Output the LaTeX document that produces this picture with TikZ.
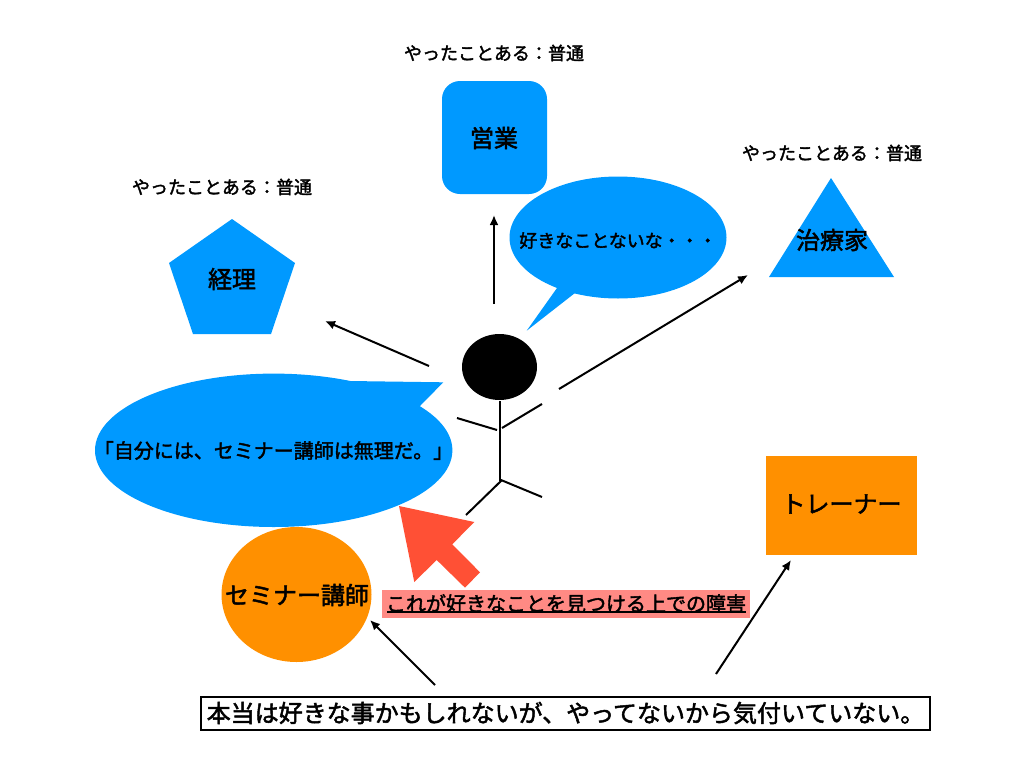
\documentclass[tikz,border=0pt]{standalone}
\usepackage{fontspec}
\usetikzlibrary{arrows.meta}
\newfontfamily\jp[FakeBold=2]{Noto Sans CJK JP}
\definecolor{skyb}{HTML}{0099FF}
\definecolor{orng}{HTML}{FF9000}
\definecolor{redarrow}{HTML}{FF5035}
\definecolor{pinkb}{HTML}{FF8A84}
\tikzset{
  lab/.style={inner sep=0pt,font=\jp\fontsize{#1}{#1}\selectfont,text=black},
  conn/.style={draw=black,line width=2pt,-{Latex[length=10pt,width=9pt]}},
  stick/.style={draw=black,line width=2pt},
}
\begin{document}
\begin{tikzpicture}[x=1pt,y=-1pt]
\useasboundingbox (0,0) rectangle (1021,764);
% blue shapes
\fill[skyb,rounded corners=18pt] (442,81) rectangle (547,194);
\fill[skyb] (232,219) -- (295,263) -- (271,334) -- (193,334) -- (169,263) -- cycle;
\fill[skyb] (831,178) -- (894,277) -- (769,277) -- cycle;
% speech bubbles
\fill[skyb] (618,237.5) ellipse [x radius=108.5pt,y radius=61pt];
\fill[skyb] (557.7,287) -- (526.7,330.7) -- (575,293) -- cycle;
\fill[skyb] (273.7,450.3) ellipse [x radius=178.7pt,y radius=76.7pt];
\fill[skyb] (349.3,381) -- (443.3,382.3) -- (420,406) -- (380,420) -- cycle;
% orange shapes
\fill[orng] (296.5,594.5) ellipse [x radius=75pt,y radius=67.5pt];
\fill[orng] (766,456) rectangle (917,555);
% red arrow
\fill[redarrow] (399,506) -- (474.3,522) -- (452.3,544.3) -- (480,572.3) -- (465,587.7) -- (436.7,560) -- (414.3,582) -- cycle;
% pink label
\fill[pinkb] (382,590) rectangle (750,617.7);
% stick figure
\fill[black] (499.5,367) ellipse [x radius=37.5pt,y radius=33pt];
\draw[stick] (500,401) -- (500,481);
\draw[stick] (457,418) -- (497,430);
\draw[stick] (502,428) -- (542,404);
\draw[stick] (466,515) -- (502,480);
\draw[stick] (501,480) -- (542,497);
% labels
\node[lab=18] (t1) at (494,53) {やったことある：普通};
\node[lab=18] (t2) at (222,187) {やったことある：普通};
\node[lab=18] (t3) at (832,153) {やったことある：普通};
\node[lab=24] (eigyo) at (494,138) {営業};
\node[lab=24] (keiri) at (232,279) {経理};
\node[lab=24] (chiryo) at (832,240) {治療家};
\node[lab=18] (suki) at (618,240.5) {好きなことないな・・・};
\node[lab=20] (jibun) at (273.5,450.5) {「自分には、セミナー講師は無理だ。」};
\node[lab=24] (seminar) at (297,595) {セミナー講師};
\node[lab=24] (trainer) at (841.5,504) {トレーナー};
\node[lab=20] (shogai) at (566,603.5) {これが好きなことを見つける上での障害};
\draw[black,line width=1.5pt] (387,612) -- (746,612);
\node[lab=24,draw=black,line width=2pt,minimum width=729pt,minimum height=33pt] (hontou) at (565.5,713) {本当は好きな事かもしれないが、やってないから気付いていない。};
% arrows
\coordinate (a1s) at (429,366); \coordinate (a1e) at (325,321);
\coordinate (a2s) at (494,304); \coordinate (a2e) at (494,215);
\coordinate (a3s) at (559,389); \coordinate (a3e) at (748,275);
\coordinate (a4s) at (435,685); \coordinate (a4e) at (370,620);
\coordinate (a5s) at (716,674); \coordinate (a5e) at (791,560);
\draw[conn] (a1s) -- (a1e);
\draw[conn] (a2s) -- (a2e);
\draw[conn] (a3s) -- (a3e);
\draw[conn] (a4s) -- (a4e);
\draw[conn] (a5s) -- (a5e);
\end{tikzpicture}
\end{document}
